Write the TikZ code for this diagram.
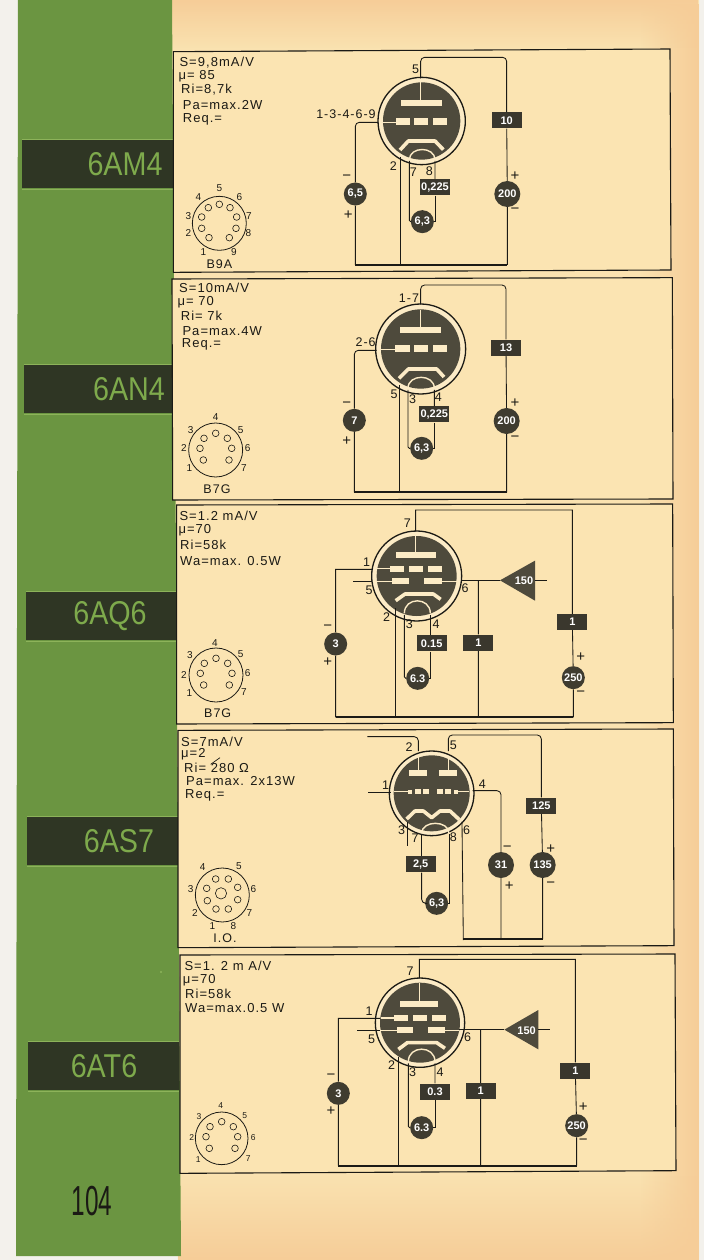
\documentclass[tikz,border=0pt]{standalone}
\usepackage{fontspec}
\usepackage{graphicx}
\usetikzlibrary{fadings}
\setmainfont{Liberation Sans}
\newfontfamily\spacedfont[LetterSpace=8]{Liberation Sans}
\definecolor{pagew}{HTML}{F3F1EC}
\definecolor{grn}{HTML}{6B9541}
\definecolor{grnl}{HTML}{8DB35A}
\definecolor{band}{HTML}{2F3624}
\definecolor{bandtxt}{HTML}{7EAA4C}
\definecolor{paperA}{HTML}{FAE2B0}
\definecolor{paperB}{HTML}{F6CD98}
\definecolor{paperin}{HTML}{FBE4B2}
\definecolor{paperlt}{HTML}{FCEBC6}
\definecolor{ink}{HTML}{1B1A15}
\definecolor{tubed}{HTML}{4E4A3C}
\definecolor{boxd}{HTML}{3A372D}
\newcounter{nd}
\tikzset{
  wire/.style={draw=ink,line width=.85pt},
  cornered/.style={wire,rounded corners=4pt},
  tightw/.style={wire,rounded corners=1.4pt},
  busline/.style={draw=ink,line width=2pt},
  frameline/.style={draw=ink,line width=1.1pt,fill=paperin},
  inw/.style={draw=paperlt,line width=1.1pt},
  cathw/.style={draw=paperlt,line width=3.6pt,line join=round},
  barw/.style={fill=paperlt},
  lab/.style={text=ink,font=\spacedfont\fontsize{12.5}{12.5}\selectfont,inner sep=0pt},
  pm/.style={text=ink,font=\fontsize{15}{15}\selectfont,inner sep=0pt},
  info/.style={text=ink,font=\spacedfont\fontsize{13}{13}\selectfont,inner sep=0pt,anchor=west},
  slab/.style={text=ink,font=\fontsize{10}{10}\selectfont,inner sep=0pt},
  slabs/.style={text=ink,font=\fontsize{8.5}{8.5}\selectfont,inner sep=0pt},
  boxn/.style={rectangle,fill=boxd,text=white,font=\fontsize{11}{11}\selectfont\bfseries,minimum width=30pt,minimum height=16pt,inner sep=0pt},
  valn/.style={circle,fill=tubed!70!ink,text=white,font=\fontsize{11}{11}\selectfont\bfseries,minimum size=23pt,inner sep=0pt},
  valb/.style={valn,minimum size=26pt},
  tribox/.style={text=white,font=\fontsize{11}{11}\selectfont\bfseries,inner sep=0pt},
  pin/.style={draw=ink,line width=.6pt},
  sockring/.style={draw=ink,line width=.8pt},
  bandlab/.style={text=bandtxt,font=\fontsize{33}{33}\selectfont,inner sep=0pt},
}
\newcommand\lb[4][lab]{\stepcounter{nd}\node[#1] (t\arabic{nd}) at (#2,#3) {#4};}
\newcommand\infotxt[3]{\stepcounter{nd}\node[info] (t\arabic{nd}) at (#1,#2) {#3};}
\newcommand\tube[4]{%
  \draw[draw=ink,line width=1.3pt,fill=paperlt] (#1,#2) circle (#3);
  \fill[tubed] (#1,#2) circle (#4);}
\newcommand\barr[4]{\fill[barw] (#1,#3) rectangle (#2,#4);}
\newcommand\heat[4]{%
  \draw[inw,line width=1.4pt] (#1,#4) .. controls (#1,#3) and (#2,#3) .. (#2,#4);}
\newcommand\sockseven[3]{% ring, pins with offsets from centre
  \draw[sockring] (#1,#2) circle (#3);
  \foreach \dx/\dy in {0/-50,-35/-35,35/-35,-47/-5,48/-5,-37/30,40/30}
    \draw[pin] (#1+\dx,#2+\dy) circle (10);}
\begin{document}
\begin{tikzpicture}[x=1pt,y=-1pt]
\useasboundingbox (0,0) rectangle (704,1260);
% page
\fill[pagew] (0,0) rectangle (704,1260);
\fill[paperA] (170,0) -- (699,0) -- (699,1260) -- (178,1260) -- cycle;
\fill[paperB,path fading=west] (640,0) rectangle (699,1260);
\fill[paperB,path fading=south] (170,0) rectangle (699,48);
\fill[paperB,path fading=north] (178,1175) rectangle (699,1260);
\fill[grn] (18,0) -- (172,0) -- (181,1256) -- (16,1256) -- cycle;
% band labels
\foreach \nm/\ya/\yb/\xa/\xb/\tx/\txt in {
  bA/140/188/22/173/125/6AM4,
  bB/365/413/24/174/129/6AN4,
  bC/592/640/26/176/110/6AQ6,
  bD/817/865/27/178/119/6AS7,
  bE/1042/1090/28/179/104/6AT6}{
  \fill[band] (\xa,\ya) rectangle (\xb,\yb);
  \draw[grnl,line width=.7pt] (\xa,\ya-1) -- (\xb,\ya-1) (\xa,\yb+1) -- (\xb,\yb+1);
  \node[bandlab] (\nm) at (\tx,{(\ya+\yb)/2+.5}) {\scalebox{.87}[1]{\txt}};
}
\node[text=ink,font=\fontsize{42}{42}\selectfont,inner sep=0pt] (pageno) at (92,1201) {\scalebox{.58}[1]{104}};
\fill[grnl] (161,972) circle (1.2pt);

% ===== PANEL 1 =====
\begin{scope}[shift={(170,45)},scale=1/3]
\draw[frameline] (10,20) -- (1500,12) -- (1503,675) -- (10,682) -- cycle;
\tube{755}{228}{131}{116}
\barr{692}{815}{165}{182}
\barr{677}{720}{219}{240}\barr{733}{775}{219}{240}\barr{790}{832}{219}{240}
\draw[inw] (752,165) -- (752,112);
\draw[inw] (635,232) -- (677,232);
\draw[cathw] (690,315) -- (715,288) -- (795,288) -- (820,314);
\heat{718}{795}{303}{345}
\coordinate (aA) at (752,100); \coordinate (aB) at (752,37); \coordinate (aC) at (1010,37);
\coordinate (gA) at (625,232); \coordinate (gB) at (556,232);
\coordinate (kA) at (690,335); \coordinate (hlA) at (718,348); \coordinate (hrA) at (795,348);
\coordinate (busLA) at (556,660); \coordinate (busRA) at (1012,660); \coordinate (busKA) at (690,660);
\node[boxn] (rA) at (1010,226) {10};
\node[valb] (vbA) at (1012,447) {200};
\node[valn] (vgA) at (556,447) {6,5};
\node[valn] (vhA) at (757,530) {6,3};
\node[boxn] (hbA) at (795,427) {0,225};
\draw[cornered] (aA) -- (aB) -- (aC) -- (rA);
\draw[wire] (rA) -- (vbA);
\draw[wire] (vbA) -- (busRA);
\draw[cornered] (gA) -- (gB) -- (vgA);
\draw[wire] (vgA) -- (busLA);
\draw[wire] (kA) -- (busKA);
\draw[tightw] (hlA) |- (vhA);
\draw[wire] (hrA) -- (hbA);
\draw[wire] (hbA) |- (vhA);
\draw[busline] (busLA) -- (busRA);
\lb{737}{73}{5}\lb{528}{207}{1-3-4-6-9}\lb{670}{362}{2}\lb{730}{382}{7}\lb{778}{380}{8}
\lb[pm]{1035}{393}{+}\lb[pm]{1035}{497}{−}\lb[pm]{530}{397}{−}\lb[pm]{535}{510}{+}
\infotxt{28}{53}{S=9,8mA/V}\infotxt{25}{93}{μ= 85}\infotxt{33}{133}{Ri=8,7k}\infotxt{38}{180}{Pa=max.2W}\infotxt{38}{222}{Req.=}
\draw[sockring] (148,535) circle (81);
\foreach \x/\y in {148/478,115/488,180/488,95/516,200/516,95/550,198/550,117/578,178/578} \draw[pin] (\x,\y) circle (10);
\foreach \x/\y/\t in {148/430/5,85/457/4,208/457/6,55/513/3,237/513/7,55/563/2,235/563/8,100/620/1,192/620/9} \lb[slab]{\x}{\y}{\t};
\lb[lab]{148}{658}{B9A}
\end{scope}

% ===== PANEL 2 =====
\begin{scope}[shift={(170,275)},scale=1/3]
\draw[frameline] (6,12) -- (1507,8) -- (1509,672) -- (8,675) -- cycle;
\tube{752}{222}{135}{119}
\barr{690}{812}{155}{175}
\barr{675}{720}{210}{232}\barr{733}{775}{210}{232}\barr{788}{832}{210}{232}
\draw[inw] (752,155) -- (752,104);
\draw[inw] (632,224) -- (675,224);
\draw[cathw] (687,310) -- (715,282) -- (800,282) -- (822,306);
\heat{714}{793}{296}{340}
\coordinate (aB1) at (752,88); \coordinate (aB2) at (752,30); \coordinate (aB3) at (1008,30);
\coordinate (gB1) at (620,226); \coordinate (gB2) at (553,226);
\coordinate (kB) at (687,330); \coordinate (hlB) at (714,345); \coordinate (hrB) at (793,345);
\coordinate (busLB) at (553,652); \coordinate (busRB) at (1010,652); \coordinate (busKB) at (687,652);
\node[boxn] (rB) at (1008,218) {13};
\node[valb] (vbB) at (1010,438) {200};
\node[valn] (vgB) at (553,436) {7};
\node[valn] (vhB) at (755,520) {6,3};
\node[boxn] (hbB) at (793,418) {0,225};
\draw[cornered] (aB1) -- (aB2) -- (aB3) -- (rB);
\draw[wire] (rB) -- (vbB);
\draw[wire] (vbB) -- (busRB);
\draw[cornered] (gB1) -- (gB2) -- (vgB);
\draw[wire] (vgB) -- (busLB);
\draw[wire] (kB) -- (busKB);
\draw[tightw] (hlB) |- (vhB);
\draw[wire] (hrB) -- (hbB);
\draw[wire] (hbB) |- (vhB);
\draw[busline] (busLB) -- (busRB);
\lb{717}{70}{1-7}\lb{587}{202}{2-6}\lb{672}{358}{5}\lb{728}{373}{3}\lb{805}{368}{4}
\lb[pm]{1035}{385}{+}\lb[pm]{1035}{490}{−}\lb[pm]{530}{388}{−}\lb[pm]{530}{500}{+}
\infotxt{27}{40}{S=10mA/V}\infotxt{22}{82}{μ= 70}\infotxt{32}{123}{Ri= 7k}\infotxt{37}{167}{Pa=max.4W}\infotxt{35}{209}{Req.=}
\sockseven{137}{525}{81}
\foreach \x/\y/\t in {137/425/4,62/465/3,212/465/5,42/520/2,233/520/6,58/578/1,222/578/7} \lb[slab]{\x}{\y}{\t};
\lb[lab]{141}{642}{B7G}
\end{scope}

% ===== PANEL 3 =====
\begin{scope}[shift={(170,500)},scale=1/3]
\draw[frameline] (20,15) -- (1508,12) -- (1510,668) -- (20,672) -- cycle;
\tube{740}{228}{135}{120}
\barr{678}{798}{155}{173}
\barr{660}{703}{197}{215}\barr{718}{760}{197}{215}\barr{773}{815}{197}{215}
\barr{665}{718}{235}{253}\barr{762}{815}{235}{253}
\draw[inw] (737,155) -- (737,108);
\draw[inw] (620,206) -- (660,206);
\draw[inw] (620,244) -- (665,244) (815,244) -- (860,244);
\draw[cathw] (677,302) -- (705,282) -- (790,282) -- (812,298);
\heat{703}{781}{290}{340}
\coordinate (aC1) at (737,95); \coordinate (aC2) at (737,30); \coordinate (aC3) at (1207,30);
\coordinate (gC1) at (606,208); \coordinate (gC2) at (497,208);
\coordinate (sC1) at (606,244); \coordinate (sC2) at (550,244);
\coordinate (oC1) at (874,241); \coordinate (triC) at (990,241); \coordinate (triCr) at (1095,241); \coordinate (stubC) at (1132,241);
\coordinate (jC) at (925,241);
\coordinate (kC) at (677,325); \coordinate (hlC) at (703,345); \coordinate (hrC) at (781,345);
\coordinate (busLC) at (497,652); \coordinate (busRC) at (1210,652); \coordinate (busKC) at (677,652); \coordinate (busJC) at (925,652);
\fill[tubed] (triC) -- (1095,182) -- (1095,302) -- cycle;
\node[tribox] (tnC) at (1062,243) {150};
\node[boxn] (rC) at (1207,366) {1};
\node[boxn] (rpC) at (925,428) {1};
\node[valn] (vbC) at (1210,533) {250};
\node[valn] (vgC) at (497,432) {3};
\node[valn] (vhC) at (743,535) {6.3};
\node[boxn] (hbC) at (785,430) {0.15};
\draw[wire] (aC1) -- (aC2) -- (aC3) -- (rC);
\draw[wire] (rC) -- (vbC);
\draw[wire] (vbC) -- (busRC);
\draw[wire] (gC1) -- (gC2) -- (vgC);
\draw[wire] (vgC) -- (busLC);
\draw[wire] (sC1) -- (sC2);
\draw[wire] (oC1) -- (triC);
\draw[wire] (triCr) -- (stubC);
\draw[wire] (jC) -- (rpC);
\draw[wire] (rpC) -- (busJC);
\draw[wire] (kC) -- (busKC);
\draw[tightw] (hlC) |- (vhC);
\draw[wire] (hrC) -- (hrC |- hbC.north);
\draw[wire] (hrC |- hbC.south) |- (vhC);
\draw[busline] (busLC) -- (busRC);
\lb{712}{70}{7}\lb{590}{187}{1}\lb{597}{270}{5}\lb{885}{265}{6}\lb{650}{350}{2}\lb{718}{372}{3}\lb{798}{372}{4}
\lb[pm]{1232}{473}{+}\lb[pm]{1232}{580}{−}\lb[pm]{473}{383}{−}\lb[pm]{473}{488}{+}
\infotxt{28}{47}{S=1.2 mA/V}\infotxt{25}{90}{μ=70}\infotxt{30}{135}{Ri=58k}\infotxt{30}{182}{Wa=max. 0.5W}
\sockseven{138}{525}{81}
\foreach \x/\y/\t in {135/428/4,60/465/3,212/462/5,42/525/2,233/520/6,58/578/1,222/575/7} \lb[slab]{\x}{\y}{\t};
\lb[lab]{143}{640}{B7G}
\end{scope}

% ===== PANEL 4 =====
\begin{scope}[shift={(170,725)},scale=1/3]
\draw[frameline] (24,16) -- (1510,12) -- (1512,662) -- (24,668) -- cycle;
\tube{785}{205}{127}{114}
\barr{718}{772}{135}{152}\barr{808}{862}{135}{152}
\draw[inw] (745,135) -- (745,92) (835,135) -- (835,92);
\barr{735}{752}{192}{208}\barr{760}{778}{192}{208}\barr{715}{727}{194}{206}
\barr{800}{818}{192}{208}\barr{825}{843}{192}{208}\barr{852}{864}{194}{206}
\draw[inw] (672,200) -- (715,200) (864,200) -- (898,200);
\draw[cathw] (710,282) -- (735,258) -- (760,258) -- (785,278) -- (810,258) -- (840,258) -- (868,284);
\heat{755}{837}{285}{325}
\coordinate (aD1) at (745,78); \coordinate (aD2) at (745,35); \coordinate (freeD1) at (592,35);
\coordinate (aE1) at (835,78); \coordinate (aE2) at (835,30); \coordinate (aE3) at (1114,30);
\coordinate (gD1) at (662,202); \coordinate (freeD2) at (595,202);
\coordinate (gE1) at (908,197); \coordinate (gE2) at (993,197);
\coordinate (kD1) at (712,292); \coordinate (freeD3) at (712,362);
\coordinate (kE1) at (876,290); \coordinate (kE2) at (880,645);
\coordinate (hlD) at (755,328); \coordinate (hrD) at (837,328);
\coordinate (busRD) at (1118,642); \coordinate (busJD) at (993,642);
\node[boxn] (rD) at (1114,242) {125};
\node[valb] (vbD) at (1118,420) {135};
\node[valb] (vgD) at (993,420) {31};
\node[valn] (vhD) at (800,535) {6,3};
\node[boxn] (hbD) at (752,418) {2,5};
\draw[cornered] (aD1) -- (aD2) -- (freeD1);
\draw[cornered] (aE1) -- (aE2) -- (aE3) -- (rD);
\draw[wire] (rD) -- (vbD);
\draw[wire] (vbD) -- (busRD);
\draw[wire] (gD1) -- (freeD2);
\draw[cornered] (gE1) -- (gE2) -- (vgD);
\draw[wire] (vgD) -- (busJD);
\draw[wire] (kD1) -- (freeD3);
\draw[wire] (kE1) -- (kE2);
\draw[wire] (hlD) -- (hlD |- hbD.north);
\draw[cornered] (hlD |- hbD.south) |- (vhD);
\draw[wire] (hrD) |- (vhD);
\draw[busline] (kE2 |- busRD) -- (busRD);
\lb{717}{65}{2}\lb{850}{62}{5}\lb{647}{182}{1}\lb{937}{177}{4}\lb{695}{317}{3}\lb{735}{340}{7}\lb{850}{337}{8}\lb{890}{315}{6}
\lb[pm]{1142}{372}{+}\lb[pm]{1142}{478}{−}\lb[pm]{1012}{372}{−}\lb[pm]{1018}{482}{+}
\infotxt{33}{52}{S=7mA/V}\infotxt{33}{88}{μ=2}\infotxt{42}{130}{Ri= 280 Ω}\infotxt{48}{168}{Pa=max. 2x13W}\infotxt{45}{212}{Req.=}
\draw[wire,line width=.7pt] (122,118) -- (150,98);
\draw[sockring] (157,510) circle (81);
\foreach \x/\y in {137/462,175/462,110/490,203/487,112/527,203/524,138/552,175/552} \draw[pin] (\x,\y) circle (10);
\draw[pin] (153,505) circle (17);
\foreach \x/\y/\t in {98/425/4,207/423/5,62/492/3,250/492/6,75/563/2,238/563/7,127/603/1,190/603/8} \lb[slab]{\x}{\y}{\t};
\lb[lab]{165}{640}{I.O.}
\end{scope}

% ===== PANEL 5 =====
\begin{scope}[shift={(170,950)},scale=1/3]
\draw[frameline] (30,15) -- (1515,12) -- (1518,662) -- (30,670) -- cycle;
\tube{750}{218}{134}{120}
\barr{690}{805}{153}{170}
\barr{672}{715}{195}{212}\barr{730}{770}{195}{212}\barr{785}{827}{195}{212}
\barr{680}{728}{232}{250}\barr{773}{825}{232}{250}
\draw[inw] (748,153) -- (748,98);
\draw[inw] (632,204) -- (672,204);
\draw[inw] (630,241) -- (680,241) (825,241) -- (868,241);
\draw[cathw] (685,298) -- (712,278) -- (800,278) -- (825,295);
\heat{715}{795}{285}{335}
\coordinate (aF1) at (748,85); \coordinate (aF2) at (748,28); \coordinate (aF3) at (1216,28);
\coordinate (gF1) at (630,205); \coordinate (gF2) at (505,205);
\coordinate (sF1) at (630,241); \coordinate (sF2) at (562,241);
\coordinate (oF1) at (868,239); \coordinate (triF) at (1003,239); \coordinate (triFr) at (1105,239); \coordinate (stubF) at (1140,239);
\coordinate (jF) at (932,239);
\coordinate (kF) at (685,320); \coordinate (hlF) at (715,340); \coordinate (hrF) at (795,340);
\coordinate (busLF) at (505,647); \coordinate (busRF) at (1220,647); \coordinate (busKF) at (685,647); \coordinate (busJF) at (932,647);
\fill[tubed] (triF) -- (1105,180) -- (1105,298) -- cycle;
\node[tribox] (tnF) at (1070,241) {150};
\node[boxn] (rF) at (1216,362) {1};
\node[boxn] (rpF) at (932,423) {1};
\node[valn] (vbF) at (1220,527) {250};
\node[valn] (vgF) at (505,430) {3};
\node[valn] (vhF) at (755,533) {6.3};
\node[boxn] (hbF) at (795,425) {0.3};
\draw[wire] (aF1) -- (aF2) -- (aF3) -- (rF);
\draw[wire] (rF) -- (vbF);
\draw[wire] (vbF) -- (busRF);
\draw[wire] (gF1) -- (gF2) -- (vgF);
\draw[wire] (vgF) -- (busLF);
\draw[wire] (sF1) -- (sF2);
\draw[wire] (oF1) -- (triF);
\draw[wire] (triFr) -- (stubF);
\draw[wire] (jF) -- (rpF);
\draw[wire] (rpF) -- (busJF);
\draw[wire] (kF) -- (busKF);
\draw[tightw] (hlF) |- (vhF);
\draw[wire] (hrF) -- (hbF);
\draw[wire] (hbF) |- (vhF);
\draw[busline] (busLF) -- (busRF);
\lb{720}{65}{7}\lb{597}{183}{1}\lb{605}{267}{5}\lb{893}{262}{6}\lb{665}{345}{2}\lb{728}{368}{3}\lb{810}{368}{4}
\lb[pm]{1240}{470}{+}\lb[pm]{1240}{575}{−}\lb[pm]{483}{380}{−}\lb[pm]{483}{483}{+}
\infotxt{43}{47}{S=1. 2 m A/V}\infotxt{38}{90}{μ=70}\infotxt{45}{132}{Ri=58k}\infotxt{45}{175}{Wa=max.0.5 W}
\sockseven{155}{565}{79}
\foreach \x/\y/\t in {152/468/4,87/500/3,224/498/5,65/562/2,250/562/6,85/630/1,235/625/7} \lb[slabs]{\x}{\y}{\t};
\end{scope}
\end{tikzpicture}
\end{document}
